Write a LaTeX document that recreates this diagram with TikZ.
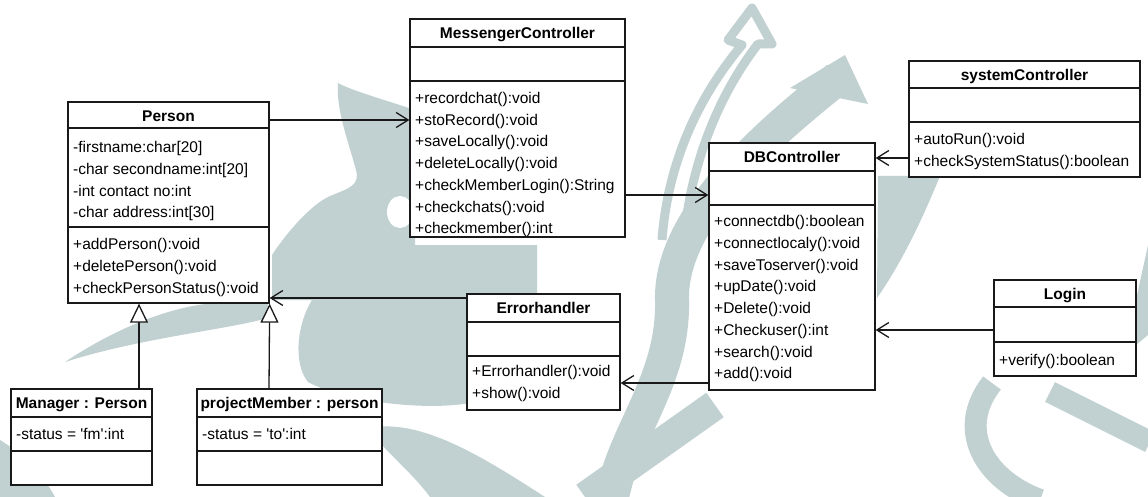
\documentclass[tikz,border=0pt]{standalone}
\usepackage{fontspec}
\setmainfont{Liberation Sans}
\usetikzlibrary{arrows.meta,calc}

\definecolor{wmark}{RGB}{193,208,208}
\definecolor{umlline}{RGB}{25,25,25}

\tikzset{
  classbox/.style={draw=umlline, fill=white, line width=1.3pt, inner sep=0pt, rectangle},
  divider/.style={draw=umlline, line width=1.3pt},
  classtitle/.style={font=\fontsize{15.5}{18}\selectfont\bfseries, inner sep=0pt, anchor=base},
  member/.style={font=\fontsize{15.5}{18}\selectfont, inner sep=0pt, anchor=base west},
  assoc/.style={draw=umlline, line width=1.3pt,
    -{Straight Barb[length=12pt,width=15pt,line width=1.3pt]}},
  inherit/.style={draw=umlline, line width=1.3pt,
    -{Triangle[open,length=19pt,width=18pt,fill=white,line width=1.3pt]}},
}

% class box: name, left, top, right, bottom, first divider, second divider, title
\newcommand\umlclass[8]{%
  \node[classbox, minimum width={#4-#2}, minimum height={#5-#3}] (#1)
    at ({(#2+#4)/2},{(#3+#5)/2}) {};
  \draw[divider] (#1.west |- 0,#6) -- (#1.east |- 0,#6);
  \draw[divider] (#1.west |- 0,#7) -- (#1.east |- 0,#7);
  \node[classtitle] (#1-title) at ({(#2+#4)/2},{#3+19.5}) {#8};
}
% compartment lines: class name, tag, x, first baseline, list of entries
\newcommand\members[5]{%
  \foreach \m [count=\i from 0] in {#5}
    {\node[member] (#1-#2-\i) at ({#3},{#4+21.75*\i}) {\m};}
}

\begin{document}
\begin{tikzpicture}[x=1pt,y=-1pt]
\fill[white] (0,0) rectangle (1148,497);
\useasboundingbox (0,0) rectangle (1148,497);

% ---- faint logo in the background ----
\fill[wmark] (338,83) .. controls (350,90) and (385,100) .. (415,110) -- (415,245)
  -- (537,245) -- (537,300) -- (475,300) -- (475,402)
  .. controls (430,412) and (345,402) .. (308,382)
  .. controls (292,362) and (298,322) .. (312,300) -- (272,300) -- (272,255)
  .. controls (285,235) and (310,205) .. (330,196)
  .. controls (350,188) and (360,185) .. (356,170)
  .. controls (348,140) and (336,110) .. (338,83) -- cycle;
\fill[white] (400,212) ellipse [x radius=13pt, y radius=16pt];
\fill[wmark] (268,304) -- (268,318) .. controls (225,330) and (140,338) .. (65,362)
  .. controls (110,332) and (160,310) .. (205,304) -- cycle;
\fill[wmark] (0,440) .. controls (25,455) and (45,478) .. (55,497) -- (0,497) -- cycle;
\fill[wmark] (368,428) .. controls (420,418) and (480,455) .. (545,497) -- (430,497)
  .. controls (410,470) and (385,452) .. (368,428) -- cycle;
\draw[wmark, line width=34pt] (838,78) .. controls (760,140) and (670,220) .. (672,300)
  .. controls (674,380) and (625,430) .. (612,497);
\fill[wmark] (790,88) -- (845,55) -- (868,104) -- cycle;
\draw[wmark, line width=9pt, line join=round] (662,240)
  .. controls (668,160) and (700,95) .. (742,45) -- (728,40) -- (752,8) -- (772,44) -- (758,44)
  .. controls (715,100) and (690,170) .. (684,240);
\draw[wmark, line width=30pt] (585,497) -- (715,405);
\fill[wmark] (878,176) -- (940,176) .. controls (920,225) and (900,265) .. (877,298) -- cycle;
\fill[wmark] (1136,300) -- (1148,245) -- (1148,335) -- (1136,345) -- cycle;
\draw[wmark, line width=22pt] (992,383) .. controls (955,430) and (985,480) .. (1040,500);
\draw[wmark, line width=22pt] (1050,392) -- (1150,442);

% ---- classes ----
\umlclass{person}{68}{102}{269}{303}{128}{227}{Person}
\members{person}{attr}{73}{152.7}{-firstname:char[20],-char secondname:int[20],-int contact no:int,-char address:int[30]}
\members{person}{op}{73}{249.5}{+addPerson():void,+deletePerson():void,+checkPersonStatus():void}

\umlclass{mc}{410}{19}{625}{237}{47}{81}{MessengerController}
\members{mc}{op}{415}{103.3}{+recordchat():void,+stoRecord():void,+saveLocally():void,+deleteLocally():void,+checkMemberLogin():String,+checkchats():void,+checkmember():int}

\umlclass{db}{709}{143}{875}{390}{171}{205}{DBController}
\members{db}{op}{714}{226.7}{+connectdb():boolean,+connectlocaly():void,+saveToserver():void,+upDate():void,+Delete():void,+Checkuser():int,+search():void,+add():void}

\umlclass{sys}{909}{61}{1140}{177}{88}{122}{systemController}
\members{sys}{op}{914}{144.3}{+autoRun():void,+checkSystemStatus():boolean}

\umlclass{login}{994}{280}{1136}{376}{307}{342}{Login}
\members{login}{op}{999}{365}{+verify():boolean}

\umlclass{err}{467}{294}{620}{410}{322}{356}{Errorhandler}
\members{err}{op}{472}{376.7}{+Errorhandler():void,+show():void}

\umlclass{manager}{11}{389}{152}{485}{417}{451}{Manager : Person}
\members{manager}{attr}{16}{439}{-status = \textquotesingle fm\textquotesingle:int}

\umlclass{pm}{197}{389}{382}{485}{417}{451}{projectMember : person}
\members{pm}{attr}{202}{439}{-status = \textquotesingle to\textquotesingle:int}

% ---- associations ----
\draw[assoc] (person.east |- 0,120) -- (mc.west |- 0,120);
\draw[assoc] (mc.east |- 0,195) -- (db.west |- 0,195);
\draw[assoc] (sys.west |- 0,158) -- (db.east |- 0,158);
\draw[assoc] (login.west |- 0,330) -- (db.east |- 0,330);
\draw[assoc] (db.west |- 0,383) -- (err.east |- 0,383);
\draw[assoc] (err.west |- 0,298) -- (person.east |- 0,298);

% ---- generalizations ----
\draw[inherit] (manager.north -| 139,0) -- (person.south -| 139,0);
\draw[inherit] (pm.north -| 269,0) -- (person.south east);
\end{tikzpicture}
\end{document}
